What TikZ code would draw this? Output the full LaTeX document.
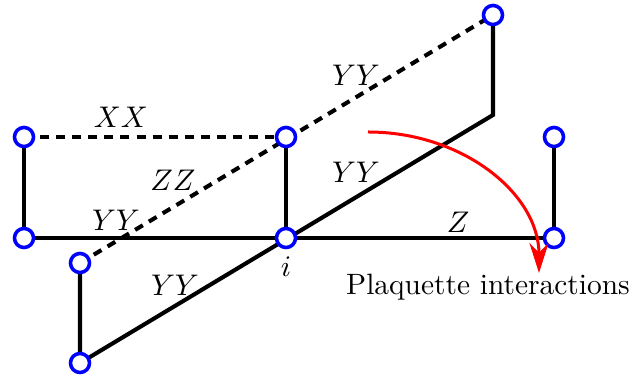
\documentclass[tikz,border=0pt]{standalone}
\usetikzlibrary{arrows.meta}
\begin{document}
\begin{tikzpicture}[x=0.367pt,y=-0.367pt,
  site/.style={circle,draw=blue,fill=white,line width=1.3pt,minimum size=7pt,inner sep=0pt},
  bond/.style={line width=1.5pt},
  dbond/.style={line width=1.5pt,dash pattern=on 3.3pt off 2.6pt},
  lab/.style={font=\fontsize{10.8}{13}\selectfont}]
\useasboundingbox (0,0) rectangle (644,377);
% coordinates
\coordinate (g) at (493,115);
% bonds
\draw[bond] (24,137) coordinate (pa) -- (24,238) coordinate (pb);
\draw[dbond] (pa) -- (286,137) coordinate (pc);
\draw[bond] (pc) -- (286,238) coordinate (pi);
\draw[bond] (pb) -- (pi) -- (554,238) coordinate (pI) -- (554,137) coordinate (pH);
\draw[bond] (80,263) coordinate (pd) -- (80,363) coordinate (pe) -- (g) -- (493,15) coordinate (pf);
\draw[dbond] (pd) -- (pf);
% sites
\node[site] (A) at (pa) {};
\node[site] (B) at (pb) {};
\node[site] (C) at (pc) {};
\node[site] (I) at (pi) {};
\node[site] (D) at (pd) {};
\node[site] (E) at (pe) {};
\node[site] (F) at (pf) {};
\node[site] (H) at (pH) {};
\node[site] (J) at (pI) {};
% labels
\node[lab] (lxx) at (121,117) {$XX$};
\node[lab] (lzz) at (173,180) {$ZZ$};
\node[lab] (lyy1) at (116,220) {$YY$};
\node[lab] (lyy2) at (356,75) {$YY$};
\node[lab] (lyy3) at (356,172) {$YY$};
\node[lab] (lyy4) at (175,285) {$YY$};
\node[lab] (lz) at (458,222) {$Z$};
\node[lab] (li) at (286,267) {$i$};
\node[lab] (lp) at (488,287) {Plaquette interactions};
% red arrow
\coordinate (rs) at (368,132);
\coordinate (re) at (539,273);
\draw[red,line width=1.1pt,-{Stealth[length=11pt,width=7pt]}] (rs) .. controls (463,132) and (539,194) .. (re);
\end{tikzpicture}
\end{document}
